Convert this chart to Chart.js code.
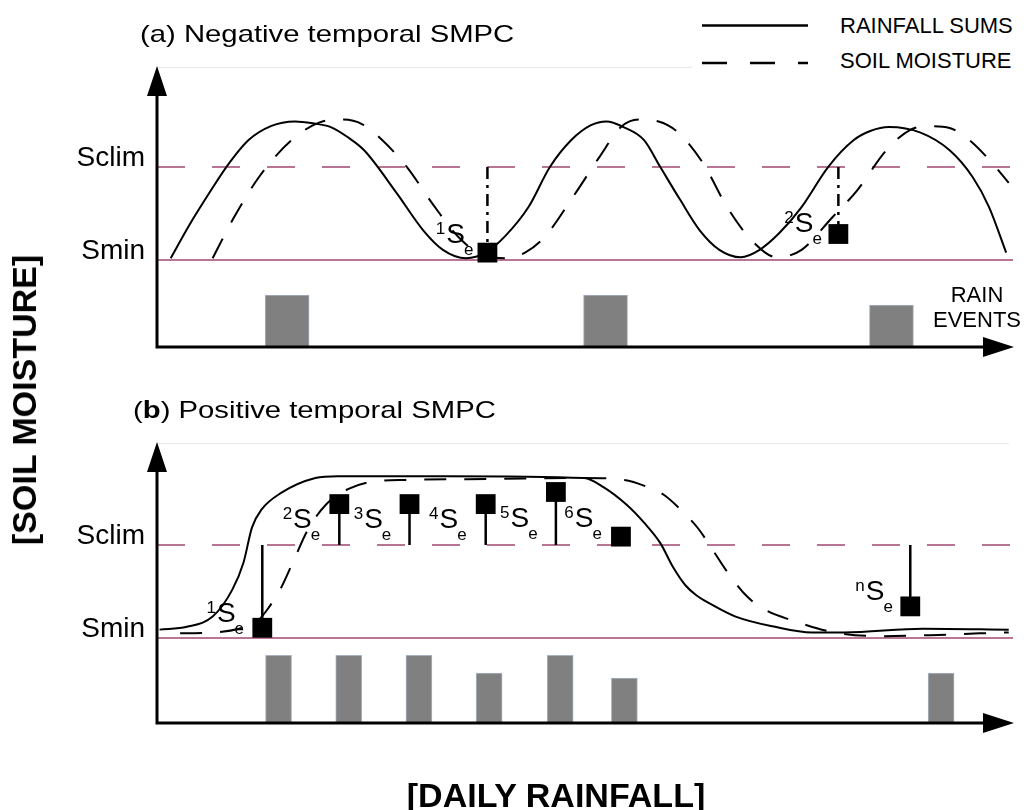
<!DOCTYPE html>
<html>
<head>
<meta charset="utf-8">
<title>Temporal SMPC</title>
<script src="https://cdn.jsdelivr.net/npm/chart.js@4.4.0/dist/chart.umd.min.js"></script>
<style>
  html, body { margin: 0; padding: 0; background: #fff; }
  body { width: 1027px; height: 810px; position: relative; overflow: hidden;
         font-family: 'Liberation Sans', Arial, sans-serif; color: #000; }
  canvas { position: absolute; left: 0; }
  #chartA { top: 0; }
  #chartB { top: 380px; }
  .txt { position: absolute; white-space: nowrap; line-height: 1; }
  .title { font-size: 24px; transform: scaleX(1.22); transform-origin: left center; }
  .legend-box { position: absolute; left: 692px; top: 0; width: 325px; height: 77px; background: #fff; }
  .legend { font-size: 22px; }
  .rain { font-size: 22px; width: 120px; text-align: center; left: 917px; }
  .axis-title { font-size: 34px; font-weight: bold; }
</style>
</head>
<body>
<canvas id="chartA" width="1027" height="380"></canvas>
<canvas id="chartB" width="1027" height="400"></canvas>

<div class="txt title" style="left:140px; top:22px;">(a) Negative temporal SMPC</div>
<div class="txt title" style="left:133px; top:398px;">(<b>b</b>) Positive temporal SMPC</div>

<div class="legend-box">
  <svg width="130" height="77" style="position:absolute; left:0; top:0;">
    <line x1="10" y1="25.5" x2="116" y2="25.5" stroke="#000" stroke-width="2.5"/>
    <line x1="10" y1="63" x2="116" y2="63" stroke="#000" stroke-width="2.5" stroke-dasharray="25 23"/>
  </svg>
  <div class="txt legend" style="left:148px; top:15px;">RAINFALL SUMS</div>
  <div class="txt legend" style="left:148px; top:50px;">SOIL MOISTURE</div>
</div>

<div class="txt rain" style="top:284px;">RAIN</div>
<div class="txt rain" style="top:309px;">EVENTS</div>

<div class="txt axis-title" style="left:24px; top:400px; transform: translate(-50%, -50%) rotate(-90deg);">[SOIL MOISTURE]</div>
<div class="txt axis-title" style="left:556px; top:778px; transform: translateX(-50%);">[DAILY RAINFALL]</div>

<script>
// x = day of the window (0..100), y = soil moisture relative to Smin (0) and Sclim (1)
const dayRange = [0, 100];
const thresholdNames = ['Smin', 'Sclim'];
const thresholdLevels = [0, 1];

// ---- (a) Negative temporal SMPC ----
const rainfallSumDaysA = [1.6, 3.8, 6.1, 8.1, 10.7, 13.3, 16.1, 18.2, 20.3, 22.3, 24.2, 28.0, 31.1, 33.4, 36.1,
  38.4, 40.7, 43.4, 45.9, 48.4, 50.7, 52.5, 54.5, 56.9, 58.8, 61.1, 63.4, 65.7, 68.2,
  70.4, 72.7, 75.3, 78.4, 81.4, 83.4, 85.5, 89.2, 92.6, 95.3, 97.2, 99.2];
const rainfallSumLevelsA = [0.02, 0.38, 0.72, 1.00, 1.29, 1.44, 1.49, 1.47, 1.43, 1.32, 1.18, 0.72, 0.32, 0.11, 0.02,
  0.08, 0.26, 0.57, 1.00, 1.29, 1.45, 1.49, 1.43, 1.29, 1.00, 0.65, 0.32, 0.11, 0.03,
  0.11, 0.29, 0.57, 1.00, 1.29, 1.39, 1.43, 1.37, 1.18, 0.89, 0.57, 0.08];
const soilMoistureDaysA = [6.5, 9.0, 11.9, 15.6, 19.0, 21.7, 24.0, 26.3, 29.2, 32.3, 35.5, 38.4, 40.7, 43.0,
  45.3, 48.6, 51.7, 54.2, 56.3, 58.6, 60.9, 63.8, 66.6, 69.6, 72.4, 75.3, 78.8, 81.8,
  85.2, 88.0, 90.3, 92.6, 94.9, 97.2, 99.5];
const soilMoistureLevelsA = [0.02, 0.46, 0.89, 1.28, 1.48, 1.51, 1.46, 1.29, 1.00, 0.59, 0.22, 0.04, 0.02, 0.08,
  0.25, 0.68, 1.11, 1.43, 1.51, 1.49, 1.37, 1.04, 0.57, 0.20, 0.03, 0.11, 0.45, 0.75,
  1.18, 1.40, 1.44, 1.42, 1.29, 1.08, 0.83];
const rainDaysA = [15.2, 52.4, 85.8];
const rainAmountsA = [5.2, 5.2, 4.2];
const seDaysA = [38.6, 79.6];
const seLevelsA = [0.08, 0.28];
const seMarksA = ['1', '2'];
const seStemsA = [true, true];
const seLabelDaysA = [33.8, 74.5];
const seLabelLevelsA = [0.18, 0.30];

// ---- (b) Positive temporal SMPC ----
const rainfallSumDaysB = [0.3, 3.5, 6.5, 8.8, 10.1, 11.1, 12.2, 14.5, 18.5, 21.1, 33.8, 49.9, 52.2, 54.9,
  56.9, 58.8, 60.3, 61.7, 63.0, 64.6, 67.6, 72.2, 76.5, 80.3, 89.5, 99.5];
const rainfallSumLevelsB = [0.09, 0.12, 0.23, 0.52, 0.81, 1.19, 1.38, 1.56, 1.72, 1.74, 1.74, 1.72, 1.62, 1.43,
  1.24, 1.02, 0.76, 0.57, 0.46, 0.37, 0.23, 0.12, 0.06, 0.06, 0.10, 0.09];
const soilMoistureDaysB = [2.7, 6.7, 9.6, 11.6, 13.0, 14.5, 15.9, 17.6, 19.7, 22.3, 25.1, 29.2, 39.6, 49.9,
  54.6, 57.4, 59.2, 61.5, 63.2, 64.9, 66.7, 69.0, 71.3, 74.2, 79.1, 84.5, 90.3, 96.1, 99.5];
const soilMoistureLevelsB = [0.05, 0.06, 0.10, 0.17, 0.32, 0.54, 0.82, 1.16, 1.43, 1.60, 1.68, 1.70, 1.71, 1.72,
  1.70, 1.62, 1.54, 1.35, 1.18, 0.95, 0.70, 0.44, 0.29, 0.19, 0.06, 0.02, 0.03, 0.05, 0.06];
const rainDaysB = [14.2, 22.4, 30.6, 38.8, 47.1, 54.6, 91.6];
const rainAmountsB = [6.8, 6.8, 6.8, 5.0, 6.8, 4.5, 5.0];
const seDaysB = [12.3, 21.3, 29.5, 38.4, 46.6, 54.2, 88.0];
const seLevelsB = [0.11, 1.44, 1.44, 1.44, 1.57, 1.09, 0.34];
const seMarksB = ['1', '2', '3', '4', '5', '6', 'n'];
const seStemsB = [true, true, true, true, true, false, true];
const seLabelDaysB = [7.0, 15.9, 24.2, 33.0, 41.3, 48.8, 82.8];
const seLabelLevelsB = [0.17, 1.18, 1.18, 1.18, 1.19, 1.19, 0.41];

const FONT = '"Liberation Sans", Arial, sans-serif';
const THRESHOLD_COLOR = 'rgb(160, 72, 112)';

Chart.defaults.font.family = FONT;
Chart.defaults.color = '#000';

function points(days, levels) {
  return days.map((d, i) => ({ x: d, y: levels[i] }));
}

// vertical stems from the Sclim line to each marked event (null breaks the line)
function stems(days, levels, flags) {
  const out = [];
  days.forEach((d, i) => {
    if (!flags[i]) return;
    out.push({ x: d, y: thresholdLevels[1] }, { x: d, y: levels[i] }, { x: d, y: null });
  });
  return out;
}

// axes with arrow heads, plus the faint frame top line
const arrowAxes = {
  id: 'arrowAxes',
  afterDatasetsDraw(chart) {
    const { ctx, chartArea: { left, right, top, bottom } } = chart;
    ctx.save();
    ctx.strokeStyle = '#e8e8e8';
    ctx.lineWidth = 1;
    ctx.beginPath();
    ctx.moveTo(left, top - 0.5);
    ctx.lineTo(right - 4, top - 0.5);
    ctx.stroke();

    ctx.strokeStyle = '#000';
    ctx.fillStyle = '#000';
    ctx.lineWidth = 3;
    ctx.beginPath();
    ctx.moveTo(left, bottom + 1.5);
    ctx.lineTo(left, top + 20);
    ctx.moveTo(left - 1.5, bottom);
    ctx.lineTo(right - 20, bottom);
    ctx.stroke();

    ctx.beginPath();
    ctx.moveTo(left, top - 2);
    ctx.lineTo(left - 10, top + 28);
    ctx.lineTo(left + 10, top + 28);
    ctx.closePath();
    ctx.fill();

    ctx.beginPath();
    ctx.moveTo(right + 1, bottom);
    ctx.lineTo(right - 30, bottom - 10);
    ctx.lineTo(right - 30, bottom + 10);
    ctx.closePath();
    ctx.fill();
    ctx.restore();
  }
};

// "ⁱSₑ" labels anchored in data units
const seLabels = {
  id: 'seLabels',
  afterDatasetsDraw(chart, args, opts) {
    const { ctx, scales: { x, y } } = chart;
    ctx.save();
    ctx.fillStyle = '#000';
    ctx.textBaseline = 'alphabetic';
    opts.days.forEach((d, i) => {
      const px = x.getPixelForValue(d);
      const py = y.getPixelForValue(opts.levels[i]);
      ctx.font = '28px ' + FONT;
      ctx.textAlign = 'left';
      ctx.fillText('S', px, py);
      const sw = ctx.measureText('S').width;
      ctx.font = '17px ' + FONT;
      ctx.textAlign = 'right';
      ctx.fillText(opts.marks[i], px - 1, py - 9);
      ctx.textAlign = 'left';
      ctx.fillText('e', px + sw - 1, py + 12);
    });
    ctx.restore();
  }
};

function makePanel(canvasId, p) {
  const canvas = document.getElementById(canvasId);
  return new Chart(canvas, {
    type: 'line',
    data: {
      datasets: [
        {
          label: 'Se',
          data: points(p.seDays, p.seLevels),
          showLine: false,
          pointStyle: 'rect',
          pointRadius: 14,
          pointBackgroundColor: '#000',
          pointBorderWidth: 0,
          order: 0
        },
        {
          label: 'stems',
          data: stems(p.seDays, p.seLevels, p.seStems),
          borderColor: '#000',
          borderWidth: p.stemWidth,
          borderDash: p.stemDash,
          pointRadius: 0,
          spanGaps: false,
          order: 1
        },
        {
          label: 'RAINFALL SUMS',
          data: points(p.sumDays, p.sumLevels),
          borderColor: '#000',
          borderWidth: 2,
          pointRadius: 0,
          cubicInterpolationMode: 'monotone',
          order: 2
        },
        {
          label: 'SOIL MOISTURE',
          data: points(p.smDays, p.smLevels),
          borderColor: '#000',
          borderWidth: 2,
          borderDash: [22, 18],
          pointRadius: 0,
          cubicInterpolationMode: 'monotone',
          order: 3
        },
        {
          label: thresholdNames[1],
          data: dayRange.map(d => ({ x: d, y: thresholdLevels[1] })),
          borderColor: THRESHOLD_COLOR,
          borderWidth: 1.5,
          borderDash: [28, 27],
          pointRadius: 0,
          order: 4
        },
        {
          label: thresholdNames[0],
          data: dayRange.map(d => ({ x: d, y: thresholdLevels[0] })),
          borderColor: THRESHOLD_COLOR,
          borderWidth: 1.5,
          pointRadius: 0,
          order: 5
        },
        {
          type: 'bar',
          label: 'RAIN EVENTS',
          data: points(p.rainDays, p.rainAmounts),
          yAxisID: 'yRain',
          backgroundColor: '#808080',
          borderColor: '#a8b4c4',
          borderWidth: 1,
          barThickness: p.barWidth,
          order: 6
        }
      ]
    },
    options: {
      responsive: false,
      animation: false,
      events: [],
      layout: { padding: { top: p.padTop, bottom: p.padBottom, left: 0, right: 3 } },
      plugins: {
        legend: { display: false },
        tooltip: { enabled: false },
        seLabels: { days: p.labelDays, levels: p.labelLevels, marks: p.seMarks }
      },
      scales: {
        x: { type: 'linear', min: dayRange[0], max: dayRange[1], offset: false, display: false },
        y: {
          type: 'linear',
          min: p.yMin,
          max: p.yMax,
          afterFit(scale) { scale.width = 157; },
          afterBuildTicks(scale) { scale.ticks = thresholdLevels.map(v => ({ value: v })); },
          ticks: {
            callback: (v, i) => thresholdNames[i],
            font: { size: 28 },
            color: '#000',
            padding: 12,
            labelOffset: -9
          },
          grid: { display: false, drawTicks: false },
          border: { display: false }
        },
        yRain: { type: 'linear', axis: 'y', position: 'right', min: 0, max: 28, display: false }
      }
    },
    plugins: [arrowAxes, seLabels]
  });
}

makePanel('chartA', {
  sumDays: rainfallSumDaysA, sumLevels: rainfallSumLevelsA,
  smDays: soilMoistureDaysA, smLevels: soilMoistureLevelsA,
  rainDays: rainDaysA, rainAmounts: rainAmountsA, barWidth: 44,
  seDays: seDaysA, seLevels: seLevelsA, seMarks: seMarksA, seStems: seStemsA,
  labelDays: seLabelDaysA, labelLevels: seLabelLevelsA,
  stemWidth: 2.5, stemDash: [12, 6, 3, 6],
  yMin: -0.935, yMax: 2.065, padTop: 68, padBottom: 33
});

makePanel('chartB', {
  sumDays: rainfallSumDaysB, sumLevels: rainfallSumLevelsB,
  smDays: soilMoistureDaysB, smLevels: soilMoistureLevelsB,
  rainDays: rainDaysB, rainAmounts: rainAmountsB, barWidth: 26,
  seDays: seDaysB, seLevels: seLevelsB, seMarks: seMarksB, seStems: seStemsB,
  labelDays: seLabelDaysB, labelLevels: seLabelLevelsB,
  stemWidth: 2.5, stemDash: [],
  yMin: -0.914, yMax: 2.086, padTop: 64, padBottom: 57
});
</script>
</body>
</html>
